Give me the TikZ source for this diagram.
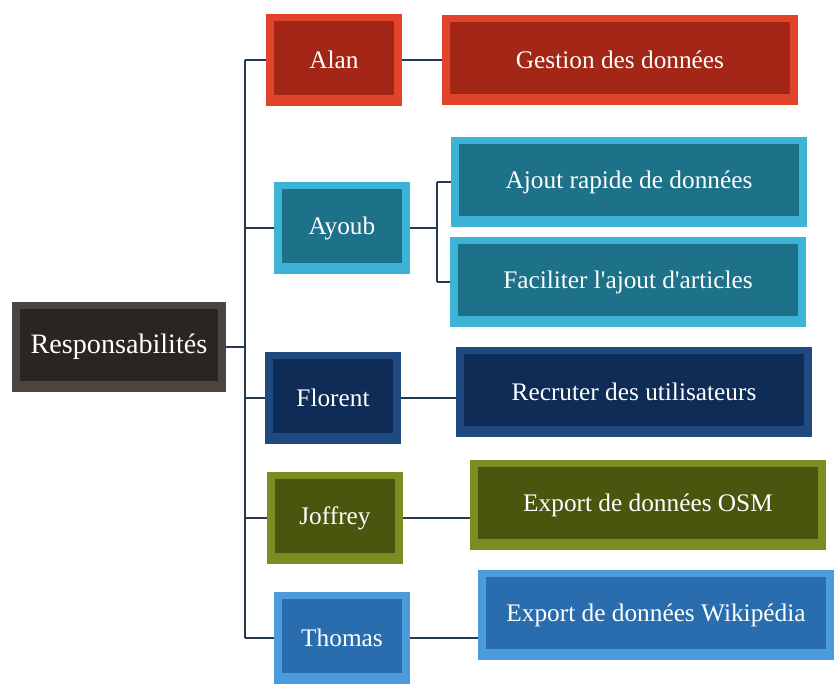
\documentclass[tikz,border=0pt]{standalone}
\usepackage{fontspec}
\setmainfont{Liberation Serif}
\usetikzlibrary{positioning}

\definecolor{blackin}{HTML}{2A2522}
\definecolor{blackout}{HTML}{4A4540}
\definecolor{redin}{HTML}{A32617}
\definecolor{redout}{HTML}{E0452B}
\definecolor{tealin}{HTML}{1D7189}
\definecolor{tealout}{HTML}{3DB4D6}
\definecolor{navyin}{HTML}{0E2C55}
\definecolor{navyout}{HTML}{1F4A80}
\definecolor{olivein}{HTML}{4B550E}
\definecolor{oliveout}{HTML}{7C8C1F}
\definecolor{bluein}{HTML}{2A6DAE}
\definecolor{blueout}{HTML}{4C9BDD}
\definecolor{linkc}{HTML}{243A55}

\begin{document}
\begin{tikzpicture}[x=0.025cm,y=-0.025cm,
    tile/.style 2 args={rectangle,fill=#2,text=white,inner sep=0pt,
        font=\fontsize{18}{20}\selectfont,
        path picture={\fill[#1]
            ([shift={(6pt,-5pt)}]path picture bounding box.north west) rectangle
            ([shift={(-6pt,8pt)}]path picture bounding box.south east);}},
    person/.style={minimum width=3.4cm,minimum height=2.3cm},
    task/.style={minimum width=8.9cm,minimum height=2.25cm},
    link/.style={draw=linkc,line width=0.9pt}]
    \useasboundingbox (0,0) rectangle (840,693);

    % root
    \node[tile={blackin}{blackout},minimum width=5.35cm,minimum height=2.25cm,
          font=\fontsize{20}{22}\selectfont] (resp) at (119,347) {Responsabilités};

    % people
    \node[tile={redin}{redout},person]     (alan)    at (334,60)  {Alan};
    \node[tile={tealin}{tealout},person]   (ayoub)   at (342,228) {Ayoub};
    \node[tile={navyin}{navyout},person]   (florent) at (333,398) {Florent};
    \node[tile={olivein}{oliveout},person] (joffrey) at (335,518) {Joffrey};
    \node[tile={bluein}{blueout},person]   (thomas)  at (342,638) {Thomas};

    % tasks
    \node[tile={redin}{redout},task]     (gestion)  at (620,60)  {Gestion des données};
    \node[tile={tealin}{tealout},task]   (ajout)    at (629,182) {Ajout rapide de données};
    \node[tile={tealin}{tealout},task]   (facil)    at (628,282) {Faciliter l\textquotesingle ajout d\textquotesingle articles};
    \node[tile={navyin}{navyout},task]   (recruter) at (634,392) {Recruter des utilisateurs};
    \node[tile={olivein}{oliveout},task] (osm)      at (648,505) {Export de données OSM};
    \node[tile={bluein}{blueout},task]   (wiki)     at (656,615) {Export de données Wikipédia};

    % connectors
    \coordinate (tr) at (245,0);
    \coordinate (fk) at (437,0);
    \draw[link] (resp.east) -- (resp.east -| tr);
    \draw[link] (tr |- alan) -- (tr |- thomas);
    \foreach \p in {alan,ayoub,florent,joffrey,thomas}
        \draw[link] (tr |- \p) -- (\p.west);
    \draw[link] (alan.east) -- (alan.east -| gestion.west);
    \draw[link] (ayoub.east) -- (ayoub.east -| fk);
    \draw[link] (fk |- ajout) -- (fk |- facil);
    \draw[link] (fk |- ajout) -- (ajout.west);
    \draw[link] (fk |- facil) -- (facil.west);
    \draw[link] (florent.east) -- (florent.east -| recruter.west);
    \draw[link] (joffrey.east) -- (joffrey.east -| osm.west);
    \draw[link] (thomas.east) -- (thomas.east -| wiki.west);
\end{tikzpicture}
\end{document}
